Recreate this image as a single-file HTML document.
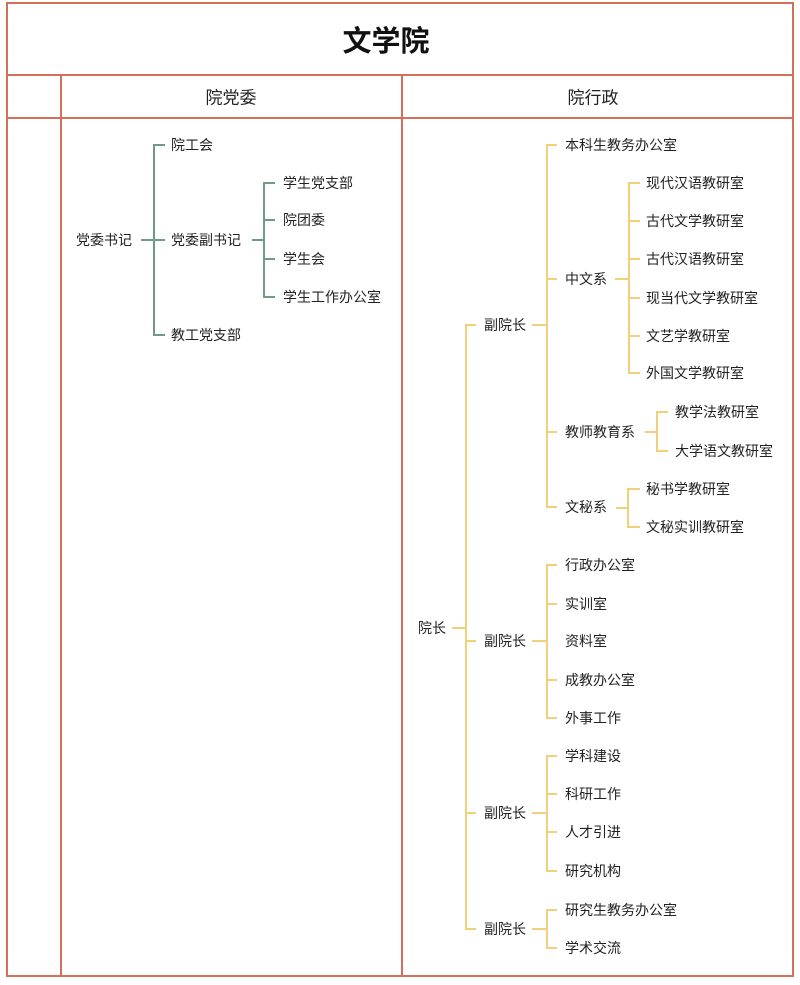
<!DOCTYPE html>
<html><head><meta charset="utf-8"><style>
html,body{margin:0;padding:0;background:#fff;}
svg{display:block;}
text{font-family:"Liberation Sans","Noto Sans CJK SC",sans-serif;font-size:14px;fill:#222;dominant-baseline:central;}
</style></head><body>
<svg width="800" height="985" viewBox="0 0 800 985" xmlns="http://www.w3.org/2000/svg">
<g fill="none" stroke="#d2705c" stroke-width="2">
<rect x="7" y="3" width="786" height="973"/>
<line x1="7" y1="75" x2="793" y2="75"/>
<line x1="7" y1="118" x2="793" y2="118"/>
<line x1="61" y1="75" x2="61" y2="976"/>
<line x1="402" y1="75" x2="402" y2="976"/>
</g>
<text x="386" y="42" text-anchor="middle" style="font-size:29px;font-weight:bold;fill:#111">文学院</text>
<text x="231" y="98" text-anchor="middle" style="font-size:17px">院党委</text>
<text x="593" y="98" text-anchor="middle" style="font-size:17px">院行政</text>

<!-- Left tree -->
<g fill="none" stroke="#6f9a86" stroke-width="2">
<line x1="141" y1="240" x2="154" y2="240"/>
<path d="M165 145 H154 V335 H165"/>
<line x1="154" y1="240" x2="165" y2="240"/>
<line x1="252" y1="240" x2="264" y2="240"/>
<path d="M275 183 H264 V297 H275"/>
<line x1="264" y1="220" x2="275" y2="220"/>
<line x1="264" y1="259" x2="275" y2="259"/>
</g>
<text x="76" y="240">党委书记</text>
<text x="171" y="145">院工会</text>
<text x="171" y="240">党委副书记</text>
<text x="171" y="335">教工党支部</text>
<text x="283" y="183">学生党支部</text>
<text x="283" y="220">院团委</text>
<text x="283" y="259">学生会</text>
<text x="283" y="297">学生工作办公室</text>

<!-- Right tree -->
<g fill="none" stroke="#f2d07a" stroke-width="2">
<line x1="452" y1="628" x2="466" y2="628"/>
<path d="M476 325 H466 V929 H476"/>
<line x1="466" y1="641" x2="476" y2="641"/>
<line x1="466" y1="813" x2="476" y2="813"/>
<!-- VP1 -->
<line x1="532" y1="325" x2="547" y2="325"/>
<path d="M557 145 H547 V507 H557"/>
<line x1="547" y1="279" x2="557" y2="279"/>
<line x1="547" y1="432" x2="557" y2="432"/>
<line x1="615" y1="279" x2="629" y2="279"/>
<path d="M640 183 H629 V373 H640"/>
<line x1="629" y1="221" x2="640" y2="221"/>
<line x1="629" y1="259" x2="640" y2="259"/>
<line x1="629" y1="298" x2="640" y2="298"/>
<line x1="629" y1="336" x2="640" y2="336"/>
<line x1="645" y1="432" x2="657" y2="432"/>
<path d="M668 412 H657 V451 H668"/>
<line x1="616" y1="508" x2="628" y2="508"/>
<path d="M640 489 H628 V527 H640"/>
<!-- VP2 -->
<line x1="532" y1="641" x2="547" y2="641"/>
<path d="M557 565 H547 V718 H557"/>
<line x1="547" y1="604" x2="557" y2="604"/>
<line x1="547" y1="680" x2="557" y2="680"/>
<!-- VP3 -->
<line x1="532" y1="813" x2="547" y2="813"/>
<path d="M557 756 H547 V871 H557"/>
<line x1="547" y1="794" x2="557" y2="794"/>
<line x1="547" y1="832" x2="557" y2="832"/>
<!-- VP4 -->
<line x1="532" y1="929" x2="547" y2="929"/>
<path d="M557 910 H547 V948 H557"/>
</g>
<text x="418" y="628">院长</text>
<text x="484" y="325">副院长</text>
<text x="484" y="641">副院长</text>
<text x="484" y="813">副院长</text>
<text x="484" y="929">副院长</text>
<text x="565" y="145">本科生教务办公室</text>
<text x="565" y="279">中文系</text>
<text x="565" y="432">教师教育系</text>
<text x="565" y="507">文秘系</text>
<text x="646" y="183">现代汉语教研室</text>
<text x="646" y="221">古代文学教研室</text>
<text x="646" y="259">古代汉语教研室</text>
<text x="646" y="298">现当代文学教研室</text>
<text x="646" y="336">文艺学教研室</text>
<text x="646" y="373">外国文学教研室</text>
<text x="675" y="412">教学法教研室</text>
<text x="675" y="451">大学语文教研室</text>
<text x="646" y="489">秘书学教研室</text>
<text x="646" y="527">文秘实训教研室</text>
<text x="565" y="565">行政办公室</text>
<text x="565" y="604">实训室</text>
<text x="565" y="641">资料室</text>
<text x="565" y="680">成教办公室</text>
<text x="565" y="718">外事工作</text>
<text x="565" y="756">学科建设</text>
<text x="565" y="794">科研工作</text>
<text x="565" y="832">人才引进</text>
<text x="565" y="871">研究机构</text>
<text x="565" y="910">研究生教务办公室</text>
<text x="565" y="948">学术交流</text>
</svg>
</body></html>
